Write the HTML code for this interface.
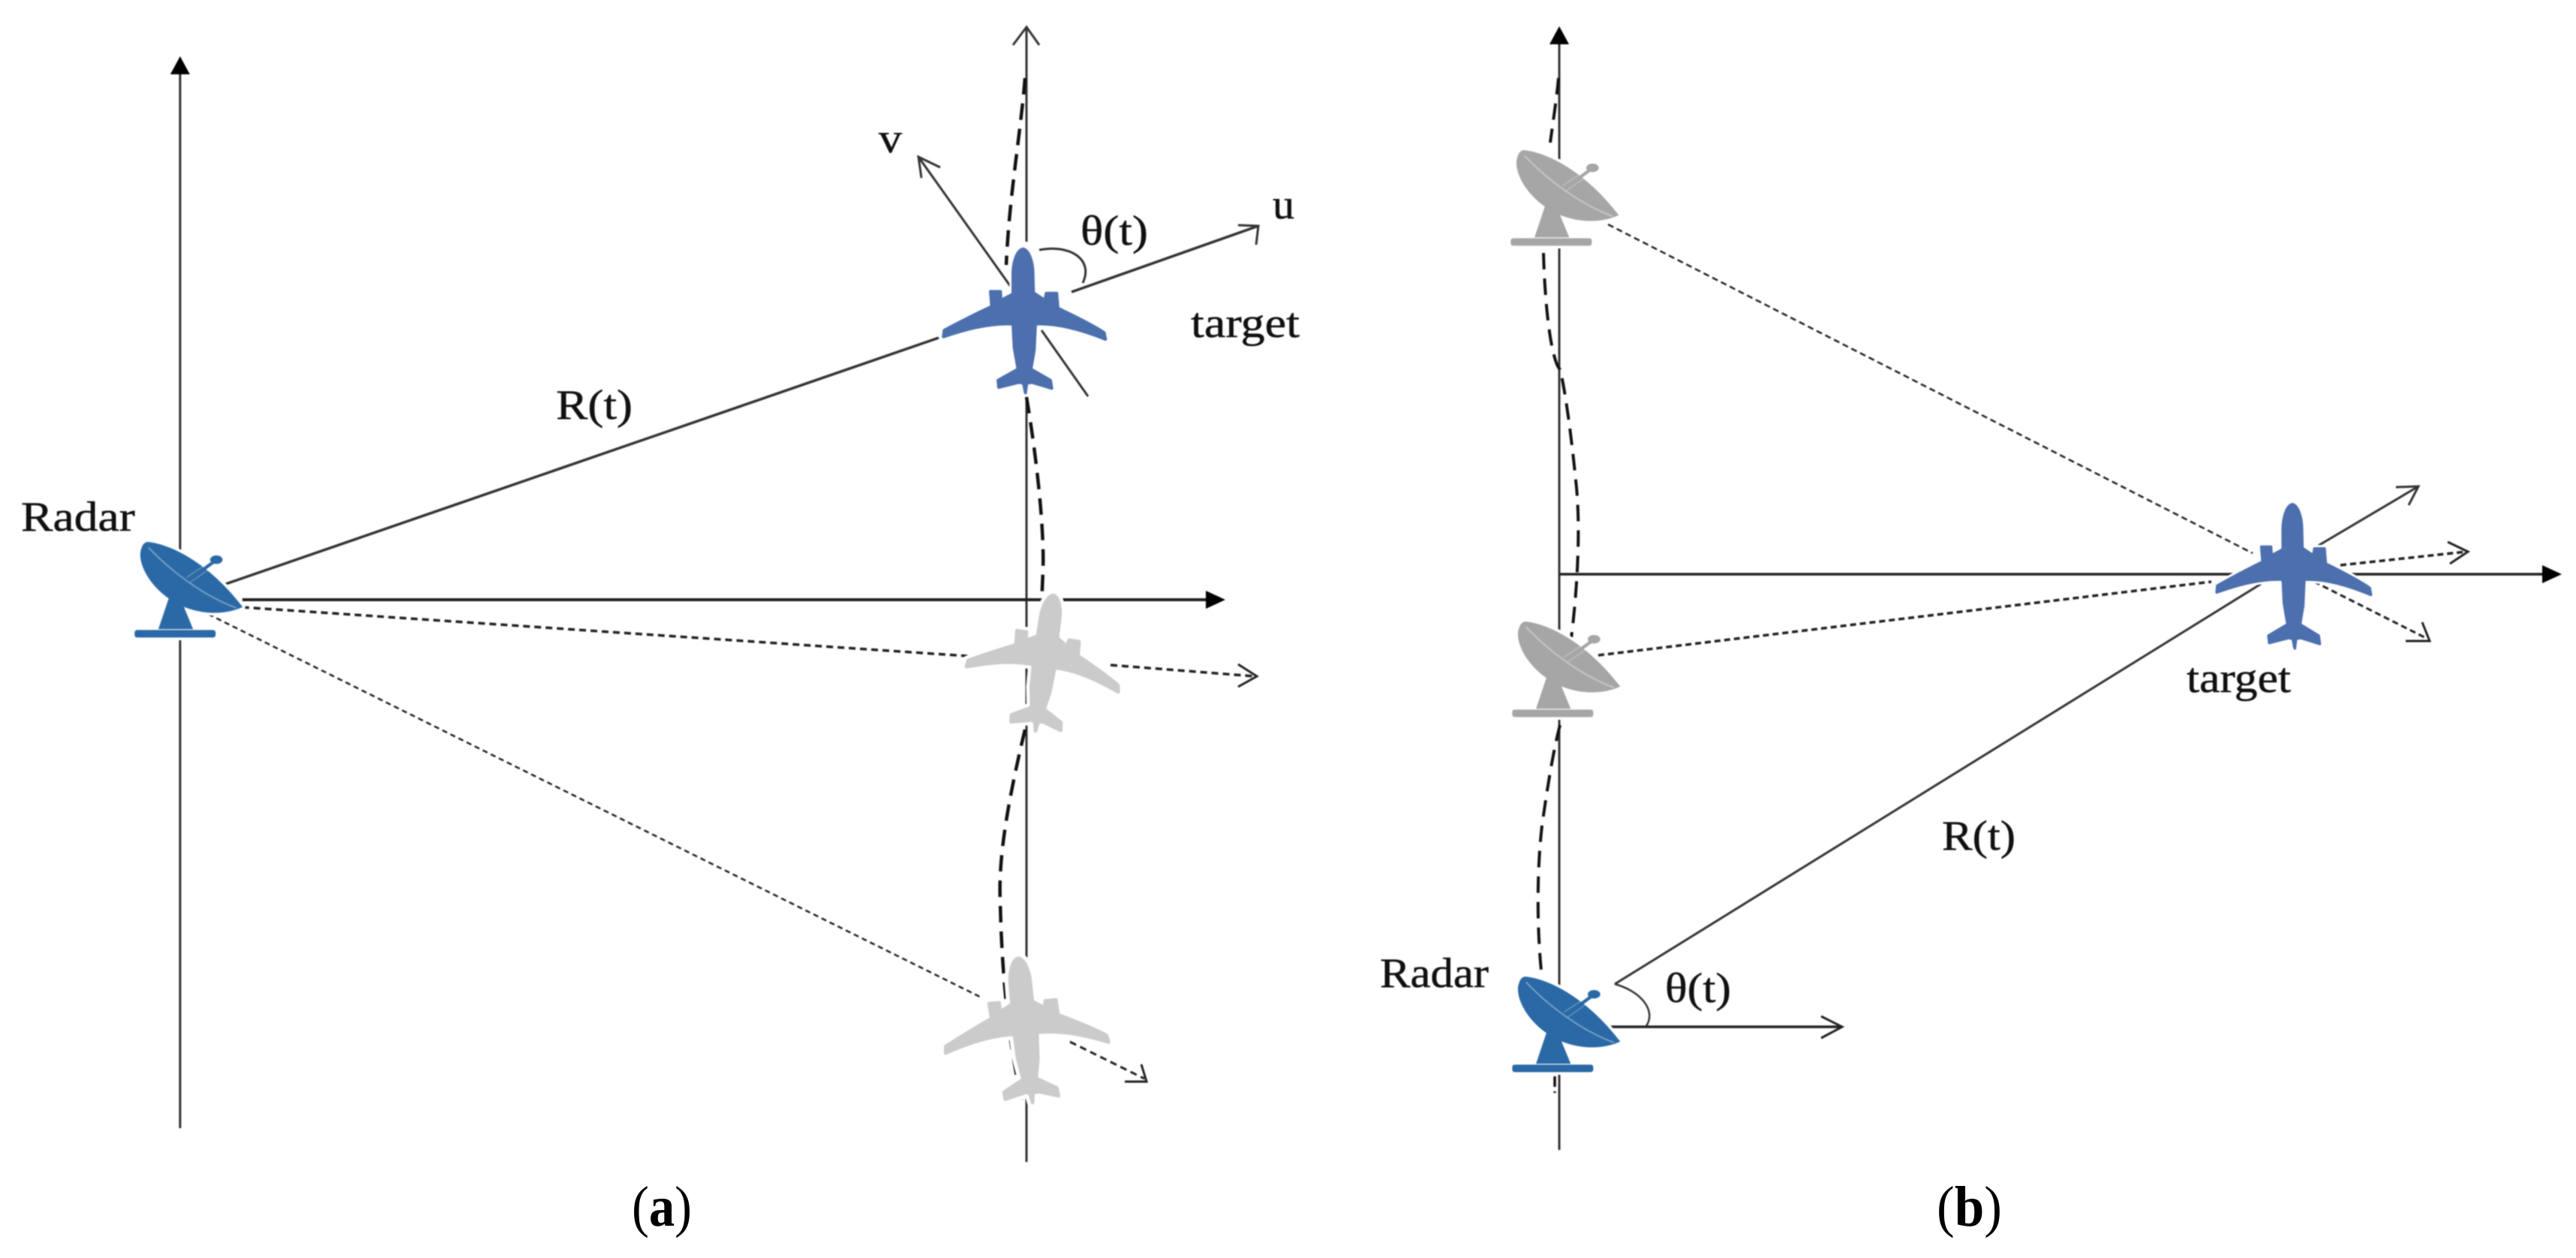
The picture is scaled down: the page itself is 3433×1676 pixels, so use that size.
<!DOCTYPE html>
<html>
<head>
<meta charset="utf-8">
<style>
html,body{margin:0;padding:0;background:#fff;}
svg{display:block;}
text{font-family:"Liberation Serif",serif;fill:#111;}
</style>
</head>
<body>
<svg width="3433" height="1676" viewBox="0 0 3433 1676" xmlns="http://www.w3.org/2000/svg">
<defs>
  <path id="plane" d="M640 245 C665 250 680 300 680 345 L682 420 L728 450 L733 422 L775 422 L780 482 C840 510 930 555 965 580 L970 606 C880 570 780 540 690 545 L685 650 L672 725 L750 770 L755 802 L675 778 L655 782 L650 820 L642 782 L625 778 L543 798 L540 770 L620 725 L605 640 L600 545 C500 540 400 570 322 596 L325 570 C400 530 460 500 515 475 L510 415 L550 415 L552 450 L600 425 L600 345 C600 300 615 250 640 245Z" stroke-linejoin="round"/>
  <g id="radarShape">
    <path d="M285 350 L345 385 L382 475 L243 475Z"/>
    <rect x="148" y="478" width="324" height="30" rx="10"/>
    <path d="M200 126 C300 136 450 216 580 386 C500 424 375 418 282 350 C200 292 155 200 176 150 C180 136 188 128 200 126Z"/>
    <ellipse cx="475" cy="197" rx="25" ry="17"/>
  </g>
  <g id="radar">
    <use href="#radarShape" stroke="#fff" stroke-width="22" stroke-linejoin="round" fill="#fff"/>
    <use href="#radarShape" stroke="none"/>
    <path d="M203 148 C290 240 420 340 555 390" fill="none" stroke="#fff" stroke-opacity=".36" stroke-width="6"/>
    <path d="M355 268 L432 218 M370 288 L445 236" fill="none" stroke="#fff" stroke-opacity=".3" stroke-width="4"/>
    <path d="M245 476 L380 476" fill="none" stroke="#fff" stroke-opacity=".3" stroke-width="4"/>
    <path d="M420 238 L468 203" fill="none" stroke="currentColor" stroke-width="13"/>
  </g>
</defs>
<rect width="3433" height="1676" fill="#fff"/>
<g style="filter:blur(0.9px)">

<!-- ===== (a) axes ===== -->
<g stroke="#333" stroke-width="3" fill="none">
  <line x1="240" y1="90" x2="240" y2="1503"/>
  <line x1="1368" y1="38" x2="1368" y2="322"/>
  <line x1="1368" y1="529" x2="1368" y2="1548"/>
</g>
<path d="M240 75 L253 99 L227 99Z" fill="#000"/>
<path d="M1350 60 L1368 36 L1385 60" fill="none" stroke="#333" stroke-width="3"/>
<line x1="323" y1="799" x2="1610" y2="799" stroke="#222" stroke-width="4"/>
<path d="M1633 799 L1607 787 L1607 811Z" fill="#000"/>

<!-- dashed trajectory a -->
<path d="M1366 104 C1360 180 1345 260 1341 353" fill="none" stroke="#111" stroke-width="4.5" stroke-dasharray="22 12"/>
<path d="M1368 529 C1380 600 1392 700 1390 760 L1388 808" fill="none" stroke="#111" stroke-width="4.5" stroke-dasharray="22 12"/>
<path d="M1366 972 C1345 1060 1330 1140 1333 1201 C1335 1300 1345 1400 1363 1469" fill="none" stroke="#111" stroke-width="4.5" stroke-dasharray="22 12"/>

<!-- R(t) a and arrows -->
<line x1="298" y1="779" x2="1251" y2="450" stroke="#333" stroke-width="3.5"/>
<line x1="1428" y1="389" x2="1677" y2="301" stroke="#333" stroke-width="3.5"/>
<path d="M1650 300 L1677 301 L1674 326" fill="none" stroke="#333" stroke-width="3"/>
<line x1="1224" y1="209" x2="1347" y2="382" stroke="#333" stroke-width="3"/>
<line x1="1388" y1="440" x2="1450" y2="528" stroke="#333" stroke-width="3"/>
<path d="M1253 223 L1224 209 L1228 237" fill="none" stroke="#333" stroke-width="3"/>
<path d="M1385 333 C1425 325 1458 345 1443 377" fill="none" stroke="#333" stroke-width="3"/>

<!-- dotted a -->
<g fill="none" stroke="#222" stroke-width="3" stroke-dasharray="9 6">
  <line x1="323" y1="809" x2="1319" y2="876" stroke-width="3.5"/>
  <line x1="1480" y1="886" x2="1672" y2="901" stroke-width="3.5"/>
  <line x1="267" y1="813" x2="1310" y2="1330" stroke-width="2.5" stroke-dasharray="7 5"/>
  <line x1="1426" y1="1388" x2="1525" y2="1437"/>
</g>
<path d="M1650 885 L1675 901 L1650 915" fill="none" stroke="#222" stroke-width="3"/>
<path d="M1521 1418 L1528 1441 L1499 1441" fill="none" stroke="#222" stroke-width="3"/>

<!-- planes a -->
<g transform="translate(1392,873) rotate(8.6) scale(.316) translate(-640,-500)">
  <use href="#plane" fill="#fff" stroke="#fff" stroke-width="44"/>
  <use href="#plane" fill="#cbcbcb" stroke="#cbcbcb" stroke-width="16"/>
</g>
<g transform="translate(1364,1362) rotate(-4.7) scale(.336) translate(-640,-500)">
  <use href="#plane" fill="#fff" stroke="#fff" stroke-width="44"/>
  <use href="#plane" fill="#cbcbcb" stroke="#cbcbcb" stroke-width="14"/>
</g>
<g transform="translate(1363.3,416.7) scale(.3333) translate(-640,-500)">
  <use href="#plane" fill="#fff" stroke="#fff" stroke-width="28"/>
  <use href="#plane" fill="#4c70ad" stroke="#4c70ad" stroke-width="12"/>
</g>

<!-- radar a -->
<use href="#radar" fill="#2a69a6" color="#2a69a6" transform="translate(130,680) scale(.3333)"/>

<!-- ===== (b) axes ===== -->
<line x1="2078" y1="50" x2="2078" y2="1532" stroke="#333" stroke-width="3"/>
<path d="M2078 35 L2091 59 L2065 59Z" fill="#000"/>
<line x1="2078" y1="765" x2="3392" y2="765" stroke="#222" stroke-width="3.5"/>
<path d="M3414 765 L3388 753 L3388 777Z" fill="#000"/>

<!-- dashed trajectory b -->
<path d="M2077 104 C2074 135 2070 160 2066 190" fill="none" stroke="#111" stroke-width="4" stroke-dasharray="22 12"/>
<path d="M2057 337 C2058 380 2062 430 2068 460 C2072 480 2076 490 2079 492 C2086 520 2094 580 2100 640 C2106 690 2104 770 2094 850" fill="none" stroke="#111" stroke-width="4" stroke-dasharray="22 12"/>
<path d="M2079 966 C2070 1000 2062 1050 2055 1100 C2048 1160 2048 1240 2055 1303" fill="none" stroke="#111" stroke-width="4" stroke-dasharray="22 12"/>
<path d="M2072 1434 L2072 1456" fill="none" stroke="#111" stroke-width="3.5" stroke-dasharray="14 6"/>

<!-- dotted b -->
<g fill="none" stroke="#222" stroke-width="3" stroke-dasharray="8 5">
  <line x1="2143" y1="299" x2="3002" y2="737" stroke-width="2.5"/>
  <line x1="3084" y1="775" x2="3235" y2="851"/>
  <line x1="2130" y1="873" x2="2947" y2="775" stroke-width="3.5"/>
  <line x1="3119" y1="753" x2="3287" y2="735" stroke-width="3.5"/>
</g>
<path d="M3262 722 L3289 735 L3265 751" fill="none" stroke="#222" stroke-width="3"/>
<path d="M3228 829 L3238 854 L3206 854" fill="none" stroke="#222" stroke-width="3"/>

<!-- solid b -->
<line x1="3086" y1="729" x2="3223" y2="648" stroke="#333" stroke-width="3"/>
<path d="M3193 649 L3223 648 L3210 673" fill="none" stroke="#333" stroke-width="3"/>
<line x1="2152" y1="1311" x2="3013" y2="778" stroke="#333" stroke-width="3"/>
<path d="M2152 1311 C2185 1320 2208 1345 2194 1367" fill="none" stroke="#333" stroke-width="2.5"/>
<line x1="2137" y1="1368" x2="2453" y2="1368" stroke="#222" stroke-width="3.5"/>
<path d="M2427 1354 L2455 1368 L2427 1383" fill="none" stroke="#222" stroke-width="3"/>

<!-- plane b -->
<g transform="translate(3055,757) scale(.317,.3333) translate(-640,-500)">
  <use href="#plane" fill="#fff" stroke="#fff" stroke-width="30"/>
  <use href="#plane" fill="#4c70ad" stroke="#4c70ad" stroke-width="12"/>
</g>

<!-- radars b -->
<use href="#radar" fill="#a6a6a6" color="#a6a6a6" transform="translate(1964,158) scale(.3333)"/>
<use href="#radar" fill="#a6a6a6" color="#a6a6a6" transform="translate(1966,786) scale(.3333)"/>
<use href="#radar" fill="#2a69a6" color="#2a69a6" transform="translate(1966,1259) scale(.3333)"/>

<!-- labels -->
<g font-size="56" stroke="#111" stroke-width=".5">
  <text x="741" y="558" textLength="102" lengthAdjust="spacingAndGlyphs">R(t)</text>
  <text x="28" y="707" textLength="152" lengthAdjust="spacingAndGlyphs">Radar</text>
  <text x="1171" y="203" textLength="31" lengthAdjust="spacingAndGlyphs">v</text>
  <text x="1696" y="291" textLength="29" lengthAdjust="spacingAndGlyphs">u</text>
  <text x="1440" y="326" textLength="90" lengthAdjust="spacingAndGlyphs">θ(t)</text>
  <text x="1587" y="449" textLength="145" lengthAdjust="spacingAndGlyphs">target</text>
  <text x="2914" y="922" textLength="139" lengthAdjust="spacingAndGlyphs">target</text>
  <text x="2588" y="1132" textLength="98" lengthAdjust="spacingAndGlyphs">R(t)</text>
  <text x="1839" y="1315" textLength="145" lengthAdjust="spacingAndGlyphs">Radar</text>
  <text x="2219" y="1335" textLength="88" lengthAdjust="spacingAndGlyphs">θ(t)</text>
</g>
</g>
<text x="842" y="1633" font-size="76" textLength="80" lengthAdjust="spacingAndGlyphs" style="fill:#000">(<tspan font-weight="bold">a</tspan>)</text>
<text x="2581" y="1633" font-size="76" textLength="87" lengthAdjust="spacingAndGlyphs" style="fill:#000">(<tspan font-weight="bold">b</tspan>)</text>
</svg>
</body>
</html>
